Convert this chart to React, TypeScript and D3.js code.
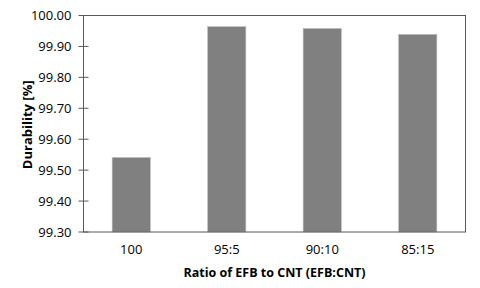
import React from 'react';
import * as d3 from 'd3';

const categories = ['100', '95:5', '90:10', '85:15'];
const durability = [99.541, 99.964, 99.958, 99.939];
const yTicks = [99.3, 99.4, 99.5, 99.6, 99.7, 99.8, 99.9, 100.0];

export default function App() {
  const width = 480;
  const height = 288;
  const margin = { top: 15.5, right: 14.5, bottom: 56, left: 83.5 };
  const innerW = width - margin.left - margin.right;
  const innerH = height - margin.top - margin.bottom;

  const x = d3.scaleBand<string>().domain(categories).range([0, innerW]).paddingInner(0.6).paddingOuter(0.3);
  const y = d3.scaleLinear().domain([99.3, 100.0]).range([innerH, 0]);

  const font = '"Open Sans", sans-serif';

  return (
    <svg width={width} height={height} style={{ position: 'absolute', left: 0, top: 0, background: 'white' }}>
      <g transform={`translate(${margin.left},${margin.top})`}>
        {categories.map((c, i) => (
          <rect key={c} x={x(c)} y={y(durability[i])} width={x.bandwidth()} height={innerH - y(durability[i])}
            fill="#808080" stroke="#bdbdbd" strokeWidth={0.6} />
        ))}
        <rect x={0} y={0} width={innerW} height={innerH} fill="none" stroke="#595959" strokeWidth={1} />
        {yTicks.map(t => (
          <g key={t} transform={`translate(0,${y(t)})`}>
            <line x1={-5} x2={5} stroke="#595959" />
            <text x={-12} dy="0.35em" textAnchor="end" fontFamily={font} fontSize={13} fill="#000">{t.toFixed(2)}</text>
          </g>
        ))}
        {categories.map(c => (
          <text key={c} x={(x(c) ?? 0) + x.bandwidth() / 2} y={innerH + 22} textAnchor="middle"
            fontFamily={font} fontSize={13} fill="#000">{c}</text>
        ))}
        <text x={innerW / 2} y={innerH + 45} textAnchor="middle" fontFamily={font} fontSize={12.5} fontWeight="bold" fill="#000">
          Ratio of EFB to CNT (EFB:CNT)
        </text>
        <text transform={`translate(${-52},${innerH / 2 + 1}) rotate(-90)`} textAnchor="middle" fontFamily={font}
          fontSize={13} fontWeight="bold" fill="#000">Durability [%]</text>
      </g>
    </svg>
  );
}
